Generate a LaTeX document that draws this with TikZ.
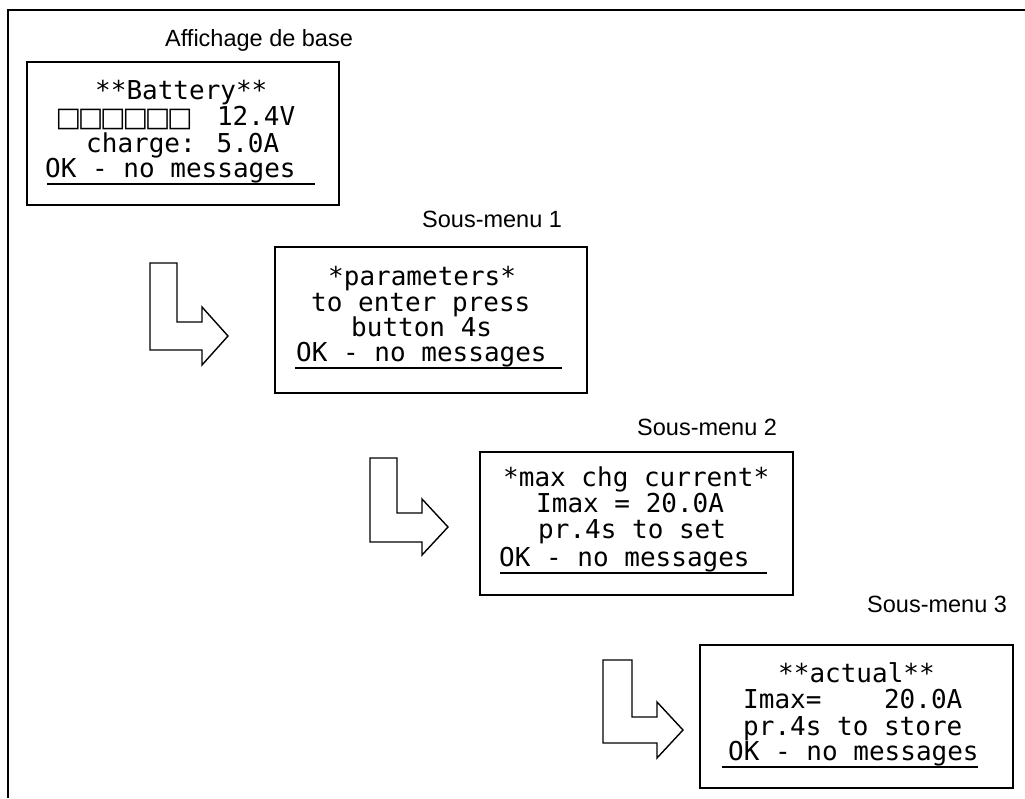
\documentclass[tikz,border=0pt]{standalone}
\usepackage{fontspec}
\setmainfont{Liberation Sans}
\newfontfamily\lcdfont{DejaVu Sans Mono}
\newfontfamily\sqfont{DejaVu Sans}
\newcommand\sqbox{\makebox[22.3pt][c]{\raisebox{-1.5pt}{\sqfont\fontsize{27}{27}\selectfont □}}}
\begin{document}
\begin{tikzpicture}[x=1pt,y=-1pt,
  lcd/.style={anchor=base west, inner sep=0pt, font=\lcdfont\fontsize{26}{26}\selectfont},
  ttl/.style={anchor=base west, inner sep=0pt, font=\fontsize{23.5}{24}\selectfont},
  screen/.style={draw, line width=1.3pt, inner sep=0pt},
  uline/.style={line width=1.1pt},
  bigarrow/.style={draw, line width=1.4pt, line join=miter},
  frameline/.style={line width=2pt}]
\useasboundingbox (0,0) rectangle (1025,798);
% outer frame
\coordinate (fa) at (8,798);
\coordinate (fb) at (8,10);
\coordinate (fc) at (1025,10);
\draw[frameline] (fa) -- (fb) -- (fc);

% titles
\node[ttl] (t1) at (165,46) {Affichage de base};
\node[ttl] (t2) at (422,227) {Sous-menu 1};
\node[ttl] (t3) at (637,435) {Sous-menu 2};
\node[ttl] (t4) at (867,612) {Sous-menu 3};

% screens
\node[screen, minimum width=312pt, minimum height=143pt] (s1) at (183,133.5) {};
\node[screen, minimum width=312pt, minimum height=146pt] (s2) at (431,320) {};
\node[screen, minimum width=313pt, minimum height=143pt] (s3) at (636.5,523.5) {};
\node[screen, minimum width=313pt, minimum height=143pt] (s4) at (856.5,716.5) {};

% screen 1
\node[lcd] (a1) at (95,99) {**Battery**};
\node[lcd] (a2) at (57,125) {\sqbox\sqbox\sqbox\sqbox\sqbox\sqbox\hspace*{26pt}12.4V};
\node[lcd] (a3) at (86,152) {charge: 5.0A};
\node[lcd] (a4) at (45,177) {OK - no messages};
\coordinate (u1a) at (47,184); \coordinate (u1b) at (315,184);
\draw[uline] (u1a) -- (u1b);

% screen 2
\node[lcd] (b1) at (328,285) {*parameters*};
\node[lcd] (b2) at (311,311) {to enter press};
\node[lcd] (b3) at (351,336) {button 4s};
\node[lcd] (b4) at (296,361) {OK - no messages};
\coordinate (u2a) at (295,368); \coordinate (u2b) at (562,368);
\draw[uline] (u2a) -- (u2b);

% screen 3
\node[lcd] (c1) at (503,486) {*max chg current*};
\node[lcd] (c2) at (536,512) {Imax = 20.0A};
\node[lcd] (c3) at (538,538) {pr.4s to set};
\node[lcd] (c4) at (499,566) {OK - no messages};
\coordinate (u3a) at (500,573); \coordinate (u3b) at (767,573);
\draw[uline] (u3a) -- (u3b);

% screen 4
\node[lcd] (d1) at (778,682) {**actual**};
\node[lcd] (d2) at (743,708) {Imax=\ \ \ \ 20.0A};
\node[lcd] (d3) at (743,735) {pr.4s to store};
\node[lcd] (d4) at (728,760) {OK - no messages};
\coordinate (u4a) at (722,767); \coordinate (u4b) at (978,767);
\draw[uline] (u4a) -- (u4b);

% L-shaped arrows
\draw[bigarrow] (150,263) -- (177,263) -- (177,322) -- (202,322) -- (202,307) -- (228,336) -- (202,365) -- (202,350) -- (150,350) -- cycle;
\draw[bigarrow] (370,458) -- (397,458) -- (397,513) -- (422,513) -- (422,499) -- (448,527) -- (422,555) -- (422,542) -- (370,542) -- cycle;
\draw[bigarrow] (603,660) -- (632,660) -- (632,717) -- (657,717) -- (657,702) -- (683,730) -- (657,758) -- (657,743) -- (603,743) -- cycle;
\end{tikzpicture}
\end{document}
